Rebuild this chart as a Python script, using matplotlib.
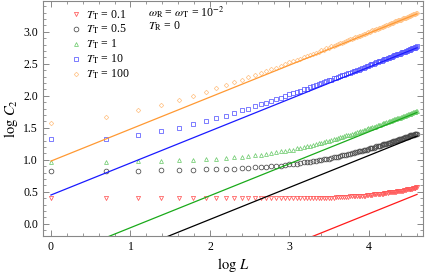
import numpy as np
import matplotlib
matplotlib.use("Agg")
import matplotlib.pyplot as plt

plt.rcParams['font.family'] = ['Liberation Serif', 'DejaVu Serif']
plt.rcParams['mathtext.fontset'] = 'stix'

# system sizes L = 1..100 (x axis shows log L)
L = np.arange(1, 101)

# log C2 values (x100), one per L
t100 = [158, 167, 177, 186, 194, 200, 206, 212, 217, 221, 225, 229, 232, 236, 239, 242, 244, 247, 249, 252,
        254, 256, 258, 260, 262, 264, 266, 267, 269, 271, 272, 274, 275, 277, 278, 279, 281, 282, 283, 284,
        286, 287, 288, 289, 290, 291, 292, 293, 294, 295, 296, 297, 298, 299, 300, 301, 302, 302, 303, 304,
        305, 306, 306, 307, 308, 309, 309, 310, 311, 312, 312, 313, 314, 314, 315, 316, 316, 317, 318, 318,
        319, 319, 320, 321, 321, 322, 322, 323, 323, 324, 324, 325, 326, 326, 327, 327, 328, 328, 329, 329]
t10 = [133, 133, 138, 145, 150, 156, 161, 165, 169, 173, 177, 180, 184, 187, 189, 192, 195, 197, 199, 202,
       204, 206, 208, 210, 211, 213, 215, 217, 218, 220, 221, 223, 224, 225, 227, 228, 229, 231, 232, 233,
       234, 235, 236, 237, 238, 239, 240, 241, 242, 243, 244, 245, 246, 247, 248, 249, 250, 250, 251, 252,
       253, 254, 254, 255, 256, 257, 257, 258, 259, 259, 260, 261, 261, 262, 263, 263, 264, 265, 265, 266,
       266, 267, 268, 268, 269, 269, 270, 270, 271, 272, 272, 273, 273, 274, 274, 275, 275, 276, 276, 277]
t1 = [97, 97, 98, 98, 99, 100, 101, 102, 103, 104, 105, 106, 107, 108, 109, 111, 112, 113, 114, 115,
      116, 118, 119, 120, 121, 122, 123, 124, 126, 127, 128, 129, 130, 131, 132, 133, 134, 135, 136, 137,
      138, 138, 139, 140, 141, 142, 143, 144, 145, 145, 146, 147, 148, 149, 149, 150, 151, 152, 152, 153,
      154, 154, 155, 156, 157, 157, 158, 159, 159, 160, 160, 161, 162, 162, 163, 163, 164, 165, 165, 166,
      166, 167, 167, 168, 169, 169, 170, 170, 171, 171, 172, 172, 173, 173, 174, 174, 175, 175, 176, 176]
t05 = [83, 83, 83, 84, 84, 84, 85, 85, 86, 86, 87, 87, 88, 89, 89, 90, 91, 91, 92, 93,
       93, 94, 95, 96, 96, 97, 98, 98, 99, 100, 101, 101, 102, 103, 104, 104, 105, 106, 107, 107,
       108, 109, 109, 110, 111, 112, 112, 113, 114, 114, 115, 116, 116, 117, 118, 118, 119, 119, 120, 121,
       121, 122, 122, 123, 124, 124, 125, 125, 126, 126, 127, 128, 128, 129, 129, 130, 130, 131, 131, 132,
       132, 133, 133, 134, 134, 135, 135, 136, 136, 137, 137, 138, 138, 139, 139, 139, 140, 140, 141, 141]
t01 = [40, 40, 40, 40, 40, 40, 40, 40, 40, 40, 40, 40, 40, 40, 40, 40, 40, 40, 40, 40,
       40, 40, 40, 40, 40, 40, 41, 41, 41, 41, 41, 41, 41, 41, 41, 42, 42, 42, 42, 42,
       42, 42, 43, 43, 43, 43, 43, 44, 44, 44, 44, 44, 45, 45, 45, 45, 45, 46, 46, 46,
       46, 47, 47, 47, 47, 48, 48, 48, 48, 49, 49, 49, 49, 50, 50, 50, 50, 51, 51, 51,
       52, 52, 52, 52, 53, 53, 53, 54, 54, 54, 54, 55, 55, 55, 56, 56, 56, 56, 57, 57]

# straight reference lines: log C2 at log L = 0 and log L = log 100
line_L = [1, 100]
line_o = [0.98, 3.28]
line_b = [0.45, 2.75]
line_g = [-0.56, 1.74]
line_k = [-0.93, 1.37]
line_r = [-1.84, 0.46]

labels = ['0.1', '0.5', '1', '10', '100']
series = [t01, t05, t1, t10, t100]
line_ys = [line_r, line_k, line_g, line_b, line_o]
markers = ['v', 'o', '^', 's', 'D']
mcolors = ['#ff5959', '#4a4a4a', '#70cc70', '#5959ff', '#ffc48a']
lcolors = ['#ff1a1a', '#000000', '#1aaa1a', '#1a1aff', '#ff9933']
msizes = [3.0, 3.4, 2.8, 2.4, 2.3]

fig = plt.figure(figsize=(4.25, 2.74), dpi=100)
ax = fig.add_axes([43/425, 1-236/274, 380/425, 235/274])
x = np.log(L)
handles = []
for lab, ser, ly, m, mc, lc, s in zip(labels, series, line_ys, markers, mcolors, lcolors, msizes):
    ax.plot(np.log(line_L), ly, color=lc, lw=0.9, zorder=3)
    h, = ax.plot(x, np.array(ser) / 100.0, ls='none', marker=m, ms=s, mfc='none', mec=mc, mew=0.55,
                 zorder=2, label=r'$T_\mathrm{T}$ = ' + lab)
    handles.append(h)

ax.set_xlim(-0.1, 4.68)
ax.set_ylim(-0.19, 3.48)
ax.xaxis.set_major_locator(plt.MultipleLocator(1))
ax.xaxis.set_minor_locator(plt.MultipleLocator(0.2))
ax.yaxis.set_major_locator(plt.MultipleLocator(0.5))
ax.yaxis.set_minor_locator(plt.MultipleLocator(0.1))
ax.tick_params(which='both', direction='in', top=True, right=True, color='#888888', labelsize=8.5)
ax.tick_params(which='major', length=4, width=0.7)
ax.tick_params(which='minor', length=2, width=0.6)
for sp in ax.spines.values():
    sp.set_color('#888888')
    sp.set_linewidth(0.8)
ax.set_xlabel(r'$\log\,L$', fontsize=10.5, labelpad=2)
ax.set_ylabel(r'$\log\,C_2$', fontsize=10.5, labelpad=2)
ax.legend(handles=handles, loc='upper left', frameon=False, fontsize=8.5, handletextpad=0.35,
          handlelength=1.0, labelspacing=0.12, borderaxespad=0.0, bbox_to_anchor=(0.058, 0.99))
ax.text(0.276, 0.952, r'$\omega_\mathrm{R}$ = $\omega_\mathrm{T}$ = 10$^{-2}$', transform=ax.transAxes,
        fontsize=8.5, va='center')
ax.text(0.276, 0.893, r'$T_\mathrm{R}$ = 0', transform=ax.transAxes, fontsize=8.5, va='center')
fig.savefig('out.png')
